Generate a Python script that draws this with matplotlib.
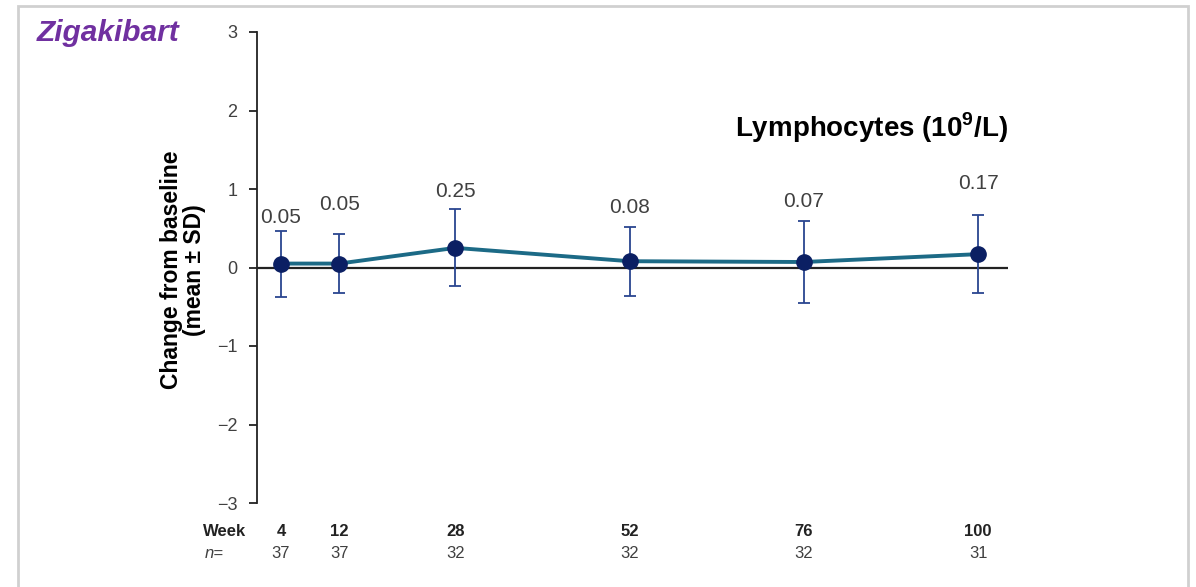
import matplotlib
matplotlib.use("Agg")
import matplotlib.pyplot as plt
from matplotlib.patches import Rectangle
from matplotlib.transforms import blended_transform_factory

plt.rcParams["font.family"] = ["Liberation Sans", "DejaVu Sans"]
plt.rcParams["mathtext.fontset"] = "custom"
plt.rcParams["mathtext.rm"] = "Liberation Sans"
plt.rcParams["mathtext.bf"] = "Liberation Sans:bold"

# data
weeks = [4, 12, 28, 52, 76, 100]
mean_change = [0.05, 0.05, 0.25, 0.08, 0.07, 0.17]
sd_change = [0.42, 0.38, 0.49, 0.44, 0.52, 0.50]
n_patients = [37, 37, 32, 32, 32, 31]
value_labels = ["0.05", "0.05", "0.25", "0.08", "0.07", "0.17"]
y_ticks = [-3, -2, -1, 0, 1, 2, 3]

# label placement (pixels above top of error bar), style only
label_offsets = [4, 20, 8, 10, 10, 22]

W, H = 1196, 587
fig = plt.figure(figsize=(W / 100, H / 100), dpi=100)
fig.patch.set_facecolor("white")

# light grey frame round the panel
fig.patches.append(Rectangle((18 / W, -0.05), (1188 - 18) / W, 1.05 - 6 / H,
                             transform=fig.transFigure, fill=False,
                             edgecolor="#d0d0d0", linewidth=2))

ax = fig.add_axes([257 / W, 1 - 503 / H, (1008 - 257) / W, (503 - 32) / H])
ax.set_xlim(0.7, 104.1)
ax.set_ylim(-3, 3)
for side in ("top", "right", "bottom"):
    ax.spines[side].set_visible(False)
ax.spines["left"].set_linewidth(1.3)
ax.spines["left"].set_color("#222222")
ax.set_xticks([])
ax.set_yticks(y_ticks)
ax.set_yticklabels(["\u22123", "\u22122", "\u22121", "0", "1", "2", "3"])
ax.tick_params(axis="y", length=6, width=1.3, color="#222222",
               labelsize=13, labelcolor="#404040", pad=8)

ax.axhline(0, color="#222222", linewidth=1.6, zorder=1)

ax.errorbar(weeks, mean_change, yerr=sd_change, fmt="none",
            ecolor="#2a4590", elinewidth=1.3, capsize=4, capthick=1.3,
            zorder=2)
ax.plot(weeks, mean_change, color="#1c6a86", linewidth=2.8, zorder=3)
ax.plot(weeks, mean_change, "o", color="#0b1f63", markersize=11, zorder=4)

for x, m, s, lab, off in zip(weeks, mean_change, sd_change, value_labels,
                             label_offsets):
    ax.annotate(lab, (x, m + s), xytext=(0, off), textcoords="offset pixels",
                ha="center", va="bottom", fontsize=15, color="#404040")

fig.text(183 / W, 1 - 270 / H, "Change from baseline\n(mean \u00b1 SD)",
         rotation=90, fontsize=16.5, fontweight="bold", ha="center",
         va="center", multialignment="center", linespacing=1.05)

fig.text(37 / W, 1 - 33 / H, "Zigakibart", color="#7030a0", fontsize=21.5,
         fontweight="bold", fontstyle="italic", va="center", ha="left")
fig.text(735 / W, 1 - 128 / H, "Lymphocytes (10$^{\\mathbf{9}}$/L)",
         fontsize=20, fontweight="bold", va="center", ha="left")

# table under the plot
tr = blended_transform_factory(ax.transData, fig.transFigure)
fig.text(203 / W, 1 - 531 / H, "Week", fontsize=12, fontweight="bold",
         va="center", ha="left", color="#222222")
fig.text(205 / W, 1 - 553 / H, "n=", fontsize=12, fontstyle="italic",
         va="center", ha="left", color="#404040")
for x, n in zip(weeks, n_patients):
    ax.text(x, 1 - 531 / H, str(x), transform=tr, fontsize=12,
            fontweight="bold", ha="center", va="center", color="#222222")
    ax.text(x, 1 - 553 / H, str(n), transform=tr, fontsize=12,
            ha="center", va="center", color="#404040")

fig.savefig("out.png", dpi=100)
